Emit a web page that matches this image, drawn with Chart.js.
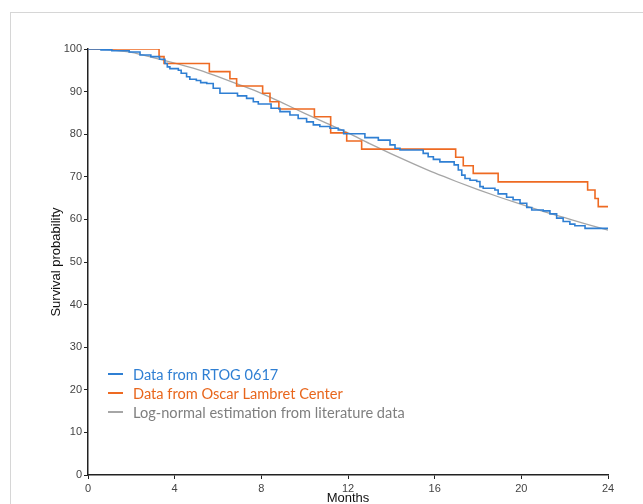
<!DOCTYPE html>
<html>
<head>
<meta charset="utf-8">
<script src="https://cdn.jsdelivr.net/npm/chart.js@4.4.1/dist/chart.umd.min.js"></script>
<style>
  html, body { margin: 0; padding: 0; background: #fff; }
  #wrap { position: relative; width: 643px; height: 504px; overflow: hidden; }
  #frame { position: absolute; left: 10px; top: 12px; width: 700px; height: 600px; border: 1px solid #d6d6d6; }
  #km { position: absolute; left: 0; top: 0; }
</style>
</head>
<body>
<div id="wrap"><div id="frame"></div><canvas id="km" width="643" height="504"></canvas></div>
<script>
  // Kaplan-Meier steps (months, survival %)
  var rtogMonths = [0, 0.6, 1.1, 1.9, 2.4, 2.9, 3.3, 3.55, 3.66, 3.78, 4.17, 4.3, 4.55, 4.7, 5.0, 5.2, 5.48, 5.78, 6.09,
    6.9, 7.32, 7.63, 7.86, 8.45, 8.86, 9.32, 9.7, 10.09, 10.4, 10.7, 11.17, 11.55, 11.8, 12.78, 13.4, 13.94, 14.17, 14.4,
    15.47, 15.7, 15.94, 16.24, 16.9, 17.09, 17.25, 17.4, 17.63, 17.94, 18.09, 18.24, 18.78, 18.93, 19.32, 19.62, 19.94,
    20.25, 20.48, 21.01, 21.32, 21.63, 21.93, 22.24, 22.47, 22.94, 24.0];
  var rtogSurv = [100, 99.8, 99.6, 99.3, 98.6, 98.2, 97.6, 96.6, 95.8, 95.4, 95.0, 94.3, 93.5, 92.9, 92.6, 92.1, 91.9, 90.8, 89.6,
    89.0, 88.4, 87.6, 87.1, 86.1, 85.3, 84.5, 83.7, 82.9, 82.2, 81.8, 81.4, 81.0, 80.1, 79.2, 78.6, 77.5, 76.7, 76.3,
    75.5, 74.7, 74.1, 73.5, 72.8, 71.6, 70.4, 69.6, 69.2, 68.9, 67.7, 67.3, 66.9, 66.0, 65.2, 64.6, 63.8,
    62.8, 62.2, 62.0, 61.3, 60.3, 59.5, 58.9, 58.5, 57.9, 57.7];

  var olcMonths = [0, 3.28, 3.51, 5.6, 6.55, 6.86, 8.06, 8.4, 8.81, 10.45, 11.2, 11.94, 12.63, 16.97, 17.32, 17.78, 18.93,
    23.06, 23.4, 23.55, 24.0];
  var olcSurv = [100, 98.2, 96.6, 94.7, 93.0, 91.3, 89.6, 87.6, 85.9, 84.1, 80.3, 78.4, 76.5, 74.6, 72.6, 70.8, 68.8,
    66.9, 64.9, 63.0, 63.0];

  var logMonths = [0, 1, 2, 3, 4, 5, 6, 7, 8, 9, 10, 11, 12, 13, 14, 15, 16, 17, 18, 19, 20, 21, 22, 23, 24];
  var logSurv = [100, 99.8, 99.2, 98.0, 96.7, 95.3, 93.5, 91.6, 89.6, 87.3, 84.9, 82.6, 80.3, 77.8, 75.4, 73.1,
    70.9, 68.9, 67.0, 65.2, 63.5, 61.9, 60.4, 58.9, 57.5];

  var seriesNames = ['Data from RTOG 0617', 'Data from Oscar Lambret Center', 'Log-normal estimation from literature data'];
  var seriesColors = ['#2f7fd3', '#ee6a22', '#a6a6a6'];
  var legendTextColors = ['#2f7fd3', '#e8661c', '#7f7f7f'];

  var xTicks = [0, 4, 8, 12, 16, 20, 24];
  var yTicks = [0, 10, 20, 30, 40, 50, 60, 70, 80, 90, 100];

  function pts(xs, ys) {
    var arr = [];
    for (var i = 0; i < xs.length; i++) arr.push({ x: xs[i], y: ys[i] });
    return arr;
  }

  // legend drawn inside the plot, lower left
  var innerLegend = {
    id: 'innerLegend',
    afterDraw: function(chart) {
      var ctx = chart.ctx, area = chart.chartArea;
      ctx.save();
      ctx.font = '14.6px Lato';
      ctx.textBaseline = 'middle';
      chart.data.datasets.forEach(function(ds, i) {
        var y = area.bottom - 101 + i * 19;
        ctx.strokeStyle = ds.borderColor;
        ctx.lineWidth = 2;
        ctx.beginPath();
        ctx.moveTo(area.left + 20, y);
        ctx.lineTo(area.left + 35, y);
        ctx.stroke();
        ctx.fillStyle = legendTextColors[i];
        ctx.fillText(ds.label, area.left + 45, y + 1);
      });
      ctx.restore();
    }
  };

  var tickFont = { family: 'Liberation Sans', size: 11 };

  new Chart(document.getElementById('km'), {
    type: 'line',
    data: {
      datasets: [{
        label: seriesNames[0],
        data: pts(rtogMonths, rtogSurv),
        borderColor: seriesColors[0],
        borderWidth: 1.6,
        stepped: 'before',
        pointRadius: 0
      }, {
        label: seriesNames[1],
        data: pts(olcMonths, olcSurv),
        borderColor: seriesColors[1],
        borderWidth: 1.6,
        stepped: 'before',
        pointRadius: 0
      }, {
        label: seriesNames[2],
        data: pts(logMonths, logSurv),
        borderColor: seriesColors[2],
        borderWidth: 1.3,
        cubicInterpolationMode: 'monotone',
        pointRadius: 0
      }]
    },
    options: {
      responsive: false,
      animation: false,
      layout: { padding: { left: 49, top: 49, right: 35, bottom: 0 } },
      plugins: { legend: { display: false }, tooltip: { enabled: false } },
      scales: {
        x: {
          type: 'linear', min: 0, max: 24,
          afterFit: function(s) { s.height = 29; },
          afterBuildTicks: function(s) { s.ticks = xTicks.map(function(v) { return { value: v }; }); },
          ticks: { color: '#444', font: tickFont, padding: 3, maxRotation: 0 },
          grid: { drawOnChartArea: false, tickLength: 4, color: '#222', lineWidth: 1 },
          border: { color: '#222', width: 1.5 },
          title: { display: true, text: 'Months', color: '#111', font: { family: 'Liberation Sans', size: 13 }, padding: { top: 0, bottom: -2 } }
        },
        y: {
          min: 0, max: 100,
          afterFit: function(s) { s.width = 39; },
          afterBuildTicks: function(s) { s.ticks = yTicks.map(function(v) { return { value: v }; }); },
          ticks: { color: '#444', font: tickFont, padding: 2 },
          grid: { drawOnChartArea: false, tickLength: 4, color: '#222', lineWidth: 1 },
          border: { color: '#222', width: 1.5 },
          title: { display: true, text: 'Survival probability', color: '#111', font: { family: 'Liberation Sans', size: 13 }, padding: 0 }
        }
      }
    },
    plugins: [innerLegend]
  });
</script>
</body>
</html>
